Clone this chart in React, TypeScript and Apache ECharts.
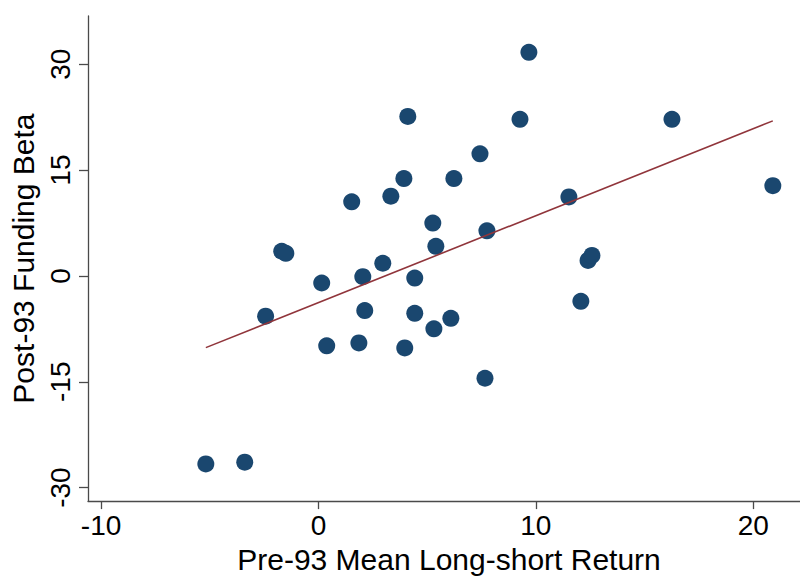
import React, { useEffect, useRef } from "react";
import * as echarts from "echarts";

// Pre-93 mean long-short return (x) and post-93 funding beta (y)
const preReturn = [
  -5.18, -3.39, -2.43, -1.69, -1.5, 0.15, 0.38, 1.53, 1.86, 2.04, 2.13, 2.96,
  3.33, 3.93, 3.97, 4.11, 4.43, 4.43, 5.26, 5.4, 5.31, 6.09, 6.23, 7.43, 7.66,
  7.75, 9.27, 9.68, 11.52, 12.07, 12.4, 12.58, 16.26, 20.9,
];
const postBeta = [
  -26.65, -26.4, -5.7, 3.5, 3.2, -1.0, -9.9, 10.5, -9.5, -0.1, -4.9, 1.8, 11.3,
  13.8, -10.2, 22.6, -0.3, -5.3, 7.5, 4.2, -7.5, -6.0, 13.8, 17.3, -14.5, 6.4,
  22.2, 31.7, 11.2, -3.6, 2.2, 2.9, 22.2, 12.8,
];
const xTicks = [-10, 0, 10, 20];
const yTicks = [-30, -15, 0, 15, 30];

// Ordinary least squares fit line spanning the range of x (like Stata's lfit)
function linearFit(xs: number[], ys: number[]): number[][] {
  const n = xs.length;
  const mx = xs.reduce((a, b) => a + b, 0) / n;
  const my = ys.reduce((a, b) => a + b, 0) / n;
  let sxy = 0;
  let sxx = 0;
  for (let i = 0; i < n; i++) {
    sxy += (xs[i] - mx) * (ys[i] - my);
    sxx += (xs[i] - mx) * (xs[i] - mx);
  }
  const b = sxy / sxx;
  const a = my - b * mx;
  const lo = Math.min(...xs);
  const hi = Math.max(...xs);
  return [
    [lo, a + b * lo],
    [hi, a + b * hi],
  ];
}

const FONT = "'Liberation Sans', Arial, Helvetica, sans-serif";
const AXIS_COLOR = "#4a4a4a";

export default function App() {
  const ref = useRef<HTMLDivElement>(null);
  useEffect(() => {
    if (!ref.current) return;
    const chart = echarts.init(ref.current, undefined, { renderer: "svg" });
    const points = preReturn.map((x, i) => [x, postBeta[i]]);
    chart.setOption({
      animation: false,
      backgroundColor: "#ffffff",
      grid: { left: 88, right: 0, top: 16, bottom: 70.3, containLabel: false },
      xAxis: {
        type: "value",
        min: -10.6,
        max: 22.15,
        name: "Pre-93 Mean Long-short Return",
        nameLocation: "middle",
        nameGap: 41,
        nameTextStyle: { fontSize: 30, color: "#000", fontFamily: FONT, padding: [0, 0, 0, 10] },
        axisLine: { show: true, onZero: false, lineStyle: { color: AXIS_COLOR, width: 1.3 } },
        axisTick: { show: true, length: 8, customValues: xTicks, lineStyle: { color: AXIS_COLOR, width: 1.3 } },
        axisLabel: { customValues: xTicks, fontSize: 28, color: "#000", fontFamily: FONT, margin: 10 },
        splitLine: { show: false },
      },
      yAxis: {
        type: "value",
        min: -31.91,
        max: 36.84,
        name: "Post-93 Funding Beta",
        nameLocation: "middle",
        nameGap: 50,
        nameTextStyle: { fontSize: 30, color: "#000", fontFamily: FONT },
        axisLine: { show: true, onZero: false, lineStyle: { color: AXIS_COLOR, width: 1.3 } },
        axisTick: { show: true, length: 9, customValues: yTicks, lineStyle: { color: AXIS_COLOR, width: 1.3 } },
        axisLabel: { customValues: yTicks, rotate: 90, fontSize: 28, color: "#000", fontFamily: FONT, margin: 14 },
        splitLine: { show: false },
      },
      series: [
        {
          type: "scatter",
          data: points,
          symbol: "circle",
          symbolSize: 17,
          itemStyle: { color: "#1a476f", opacity: 1 },
          z: 2,
        },
        {
          type: "line",
          data: linearFit(preReturn, postBeta),
          symbol: "none",
          lineStyle: { color: "#90353b", width: 1.6 },
          z: 3,
        },
      ],
    });
    return () => chart.dispose();
  }, []);
  return (
    <div
      ref={ref}
      style={{ position: "absolute", left: 0, top: 0, width: 800, height: 579 }}
    />
  );
}
